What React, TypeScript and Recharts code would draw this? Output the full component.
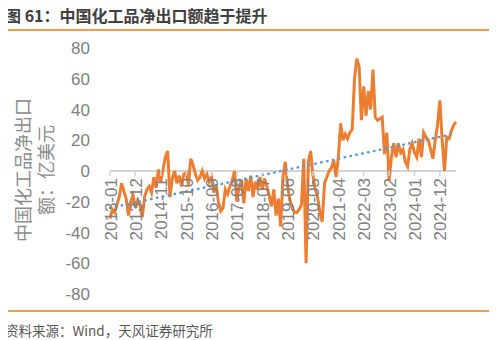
import { LineChart, Line, XAxis, YAxis, ReferenceLine } from 'recharts'

// 中国化工品净出口额（亿美元），2013-01 起按月
const netExport = [
  -31, -25, -27, -22, -17, -8, -13, -18, -29, -20,
  -16, -24, -19, -22, -30, -17, -12, -10, -14, -4,
  -11, 1, -7, 1, 9, 13, -17, -5, 0, -8,
  -3, -10, -2, -1, -9, 8, 4, -2, -6, -4,
  0, -5, -2, -7, -4, -14, -9, -20, -26, -24,
  -12, -15, -10, -6, 0, -20, -10, -6, -21, -5,
  -13, -3, -17, -7, -12, -4, -12, -5, -10, -16,
  -23, -12, -29, -18, -36, -3, 6, -10,
  -19, -24, -27, -27, -25, -22, 8, -60, 6, 13,
  -3, -12, -17, -27, -33, -8, -4, 0, 2, 7,
  -4, 9, 31, 20, 24, 21, 25, 27,
  60, 73, 68, 33, 55, 36, 52, 40, 66, 35,
  33, 34, 35, 11, 25, -6, 9, 18, 9, 18,
  12, 14, 6, 3, 14, 18, 12, 9, 21, 9,
  25, 22, 20, 14, 8, 20, 30, 46, 20, 0,
  22, 21, 26, 30, 32,
]

// 线性趋势线两端
const trendStart = -24
const trendEnd = 24.5

const startYear = 2013
const months = netExport.map((_, i) =>
  `${startYear + Math.floor(i / 12)}-${String((i % 12) + 1).padStart(2, '0')}`)

const yTicks = [-80, -60, -40, -20, 0, 20, 40, 60, 80]

const rows = months.map((m, i) => ({
  m,
  v: netExport[i],
  t: i === 0 ? trendStart : i === months.length - 1 ? trendEnd : null,
}))

const PLOT_H = 246
const GRAY = '#808080'
const ORANGE = '#f39c45'
const NUM_FONT = '"Liberation Sans", Arial, sans-serif'
const CJK_FONT = '"Noto Sans CJK SC", sans-serif'

// x 轴标签画在 0 线下方
function XTick(props: any) {
  const { x, y, payload } = props
  const zy = y - PLOT_H / 2
  return (
    <g>
      <line x1={x} x2={x} y1={zy} y2={zy + 5} stroke="#d4d4d4" strokeWidth={1.5} />
      <text
        transform={`translate(${x + 1},${zy + 7}) rotate(-90)`}
        textAnchor="end"
        dominantBaseline="central"
        fontSize={17}
        fontFamily={NUM_FONT}
        fill={GRAY}
      >
        {payload.value}
      </text>
    </g>
  )
}

function YLabel() {
  return (
    <g fontFamily={CJK_FONT} fontSize={18} fill="#8c8c8c">
      <text transform="translate(22,170) rotate(-90)" textAnchor="middle" dominantBaseline="central">
        中国化工品净出口
      </text>
      <text transform="translate(45,170) rotate(-90)" textAnchor="middle" dominantBaseline="central">
        额：亿美元
      </text>
    </g>
  )
}

export default function App() {
  return (
    <div style={{ position: 'relative', width: 497, height: 340, margin: '-8px 0 0 -8px', background: '#fff', overflow: 'hidden' }}>
      <div style={{ position: 'absolute', left: 5, top: 3, fontFamily: CJK_FONT, fontSize: 16, fontWeight: 700, color: '#404040', whiteSpace: 'nowrap' }}>
        图 61：中国化工品净出口额趋于提升
      </div>
      <div style={{ position: 'absolute', left: 5, right: 5, top: 29, height: 2, background: ORANGE }} />
      <div style={{ position: 'absolute', left: 5, right: 5, top: 310, height: 2, background: ORANGE }} />
      <div style={{ position: 'absolute', left: 5, top: 320, fontFamily: CJK_FONT, fontSize: 13.5, color: '#595959', whiteSpace: 'nowrap' }}>
        资料来源：Wind，天风证券研究所
      </div>
      <div style={{ position: 'absolute', left: 0, top: 0 }}>
        <LineChart width={497} height={340} data={rows} margin={{ top: 48, right: 41, bottom: 16, left: 0 }}>
          <XAxis
            dataKey="m"
            interval={10}
            axisLine={false}
            tickLine={false}
            tickSize={0}
            tickMargin={0}
            height={30}
            tick={<XTick />}
          />
          <YAxis
            domain={[-80, 80]}
            ticks={yTicks}
            width={110}
            axisLine={false}
            tickLine={false}
            tickSize={0}
            tickMargin={20}
            tick={{ fontSize: 17, fill: GRAY, fontFamily: NUM_FONT }}
            label={<YLabel />}
          />
          <ReferenceLine y={0} stroke="#d4d4d4" strokeWidth={2} />
          <Line dataKey="v" stroke="#ed7d31" strokeWidth={3} dot={false} isAnimationActive={false} />
          <Line
            dataKey="t"
            stroke="#5b9bd5"
            strokeWidth={2.5}
            strokeDasharray="0.5 5.5"
            strokeLinecap="round"
            connectNulls
            dot={false}
            isAnimationActive={false}
          />
        </LineChart>
      </div>
    </div>
  )
}
